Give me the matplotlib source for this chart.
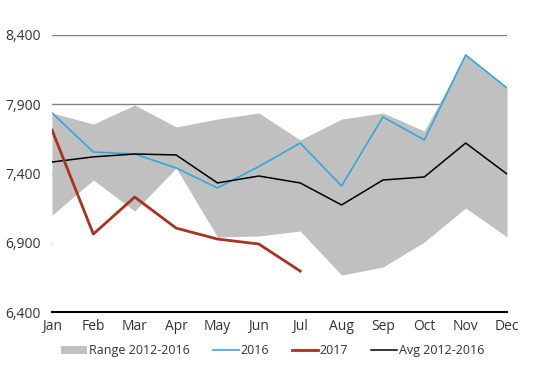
import matplotlib.pyplot as plt

plt.rcParams['font.family'] = ['Open Sans', 'DejaVu Sans']

months = ['Jan', 'Feb', 'Mar', 'Apr', 'May', 'Jun', 'Jul', 'Aug', 'Sep', 'Oct', 'Nov', 'Dec']
range_low = [7100, 7353, 7129, 7440, 6942, 6949, 6985, 6667, 6725, 6906, 7151, 6942]
range_high = [7837, 7757, 7894, 7736, 7793, 7837, 7642, 7793, 7837, 7707, 8256, 8017]
y2016 = [7837, 7555, 7541, 7440, 7296, 7450, 7620, 7310, 7808, 7642, 8256, 8017]
y2017 = [7714, 6963, 7230, 7006, 6927, 6891, 6696]
avg = [7483, 7520, 7541, 7534, 7332, 7382, 7332, 7173, 7353, 7375, 7620, 7396]
yticks = [6400, 6900, 7400, 7900, 8400]

fig = plt.figure(figsize=(5.36, 3.68), dpi=100)
ax = fig.add_axes([0.097, 0.152, 0.849, 0.753])

x = list(range(len(months)))

# grid behind everything, then white "base" area hides it like the stacked area in the original
for t in yticks[1:]:
    ax.axhline(t, color='#808080', lw=1, zorder=0)
ax.fill_between(x, 6400, range_low, color='white', lw=0, zorder=1)
ax.fill_between(x, range_low, range_high, color='#c0c0c0', lw=0, zorder=1, label='Range 2012-2016')
ax.plot(x, y2016, color='#35a7d9', lw=1.2, zorder=3, label='2016')
ax.plot(x[:len(y2017)], y2017, color='#a53324', lw=2, zorder=4, label='2017')
ax.plot(x, avg, color='black', lw=1.1, zorder=3, label='Avg 2012-2016')

ax.set_xlim(0, 11)
ax.set_ylim(6400, 8400)
ax.set_yticks(yticks)
ax.set_yticklabels(['{:,}'.format(t) for t in yticks])
ax.set_xticks(x)
ax.set_xticklabels(months)
for s in ['top', 'right', 'left']:
    ax.spines[s].set_visible(False)
ax.spines['bottom'].set_linewidth(1.5)
ax.spines['bottom'].set_zorder(5)
ax.tick_params(axis='both', length=0, labelsize=10, colors='#333333')
ax.tick_params(axis='y', pad=8)
ax.tick_params(axis='x', pad=5)

ax.legend(loc='upper center', bbox_to_anchor=(0.485, -0.075), ncol=4, frameon=False,
          fontsize=9, handlelength=2.1, handletextpad=0.15, columnspacing=1.8,
          handleheight=0.6, labelcolor='#333333')

fig.savefig('out.png', dpi=100)
